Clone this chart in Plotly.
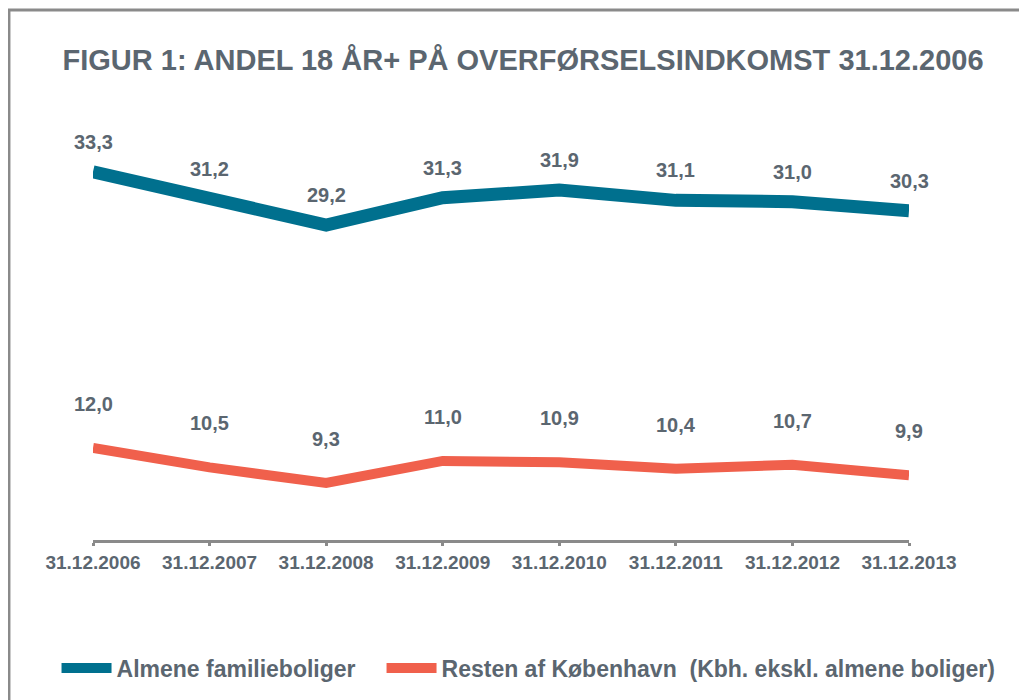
import plotly.graph_objects as go

# data
dates = ["31.12.2006", "31.12.2007", "31.12.2008", "31.12.2009",
         "31.12.2010", "31.12.2011", "31.12.2012", "31.12.2013"]
almene = [33.3, 31.2, 29.2, 31.3, 31.9, 31.1, 31.0, 30.3]
resten = [12.0, 10.5, 9.3, 11.0, 10.9, 10.4, 10.7, 9.9]

name_almene = "Almene familieboliger"
name_resten = "Resten af København  (Kbh. ekskl. almene boliger)"

GREY = "#5b6670"
BLUE = "#00708e"
RED = "#f0604c"
FONT = "Liberation Sans, Arial, sans-serif"

fig = go.Figure()
fig.add_trace(go.Scatter(x=dates, y=almene, mode="lines", name=f"<b>{name_almene}</b>",
                         line=dict(color=BLUE, width=13), legend="legend"))
fig.add_trace(go.Scatter(x=dates, y=resten, mode="lines", name=f"<b>{name_resten}</b>",
                         line=dict(color=RED, width=10), legend="legend2"))

# value labels above the points
for series, shift in ((almene, 30), (resten, 44)):
    for d, v in zip(dates, series):
        fig.add_annotation(x=d, y=v, text=f"<b>{v:.1f}</b>".replace(".", ","),
                           showarrow=False, yshift=shift,
                           font=dict(family=FONT, size=20, color=GREY))

# grey frame around the figure
fig.add_shape(type="rect", xref="paper", yref="paper",
              x0=-0.103, x1=1.3, y0=-0.6, y1=1.262,
              line=dict(color="#8a8a8a", width=3))

legend_style = dict(orientation="h", yanchor="middle", y=-0.305, xanchor="left",
                    font=dict(family=FONT, size=23, color=GREY), itemwidth=50,
                    bgcolor="rgba(0,0,0,0)")

fig.update_layout(
    width=1027, height=700,
    margin=dict(l=85, r=126, t=112, b=168),
    paper_bgcolor="white", plot_bgcolor="white",
    font=dict(family=FONT, color=GREY),
    title=dict(text="<b>FIGUR 1: ANDEL 18 ÅR+ PÅ OVERFØRSELSINDKOMST 31.12.2006</b>",
               x=0.5015, xanchor="center", y=0.926, yanchor="middle",
               font=dict(family=FONT, size=29, color=GREY)),
    showlegend=True,
    legend=dict(x=-0.0447, **legend_style),
    legend2=dict(x=0.3536, **legend_style),
)
fig.update_xaxes(type="category", range=[0, 7], showgrid=False, zeroline=False,
                 showline=True, linecolor="#8a8a8a", linewidth=3,
                 ticks="outside", tickcolor="#8a8a8a", tickwidth=3, ticklen=3,
                 tickfont=dict(family=FONT, size=19, color=GREY),
                 tickprefix="<b>", ticksuffix="</b>")
fig.update_yaxes(range=[4.9, 37.3], visible=False, showgrid=False)

fig.write_html("out.html")
